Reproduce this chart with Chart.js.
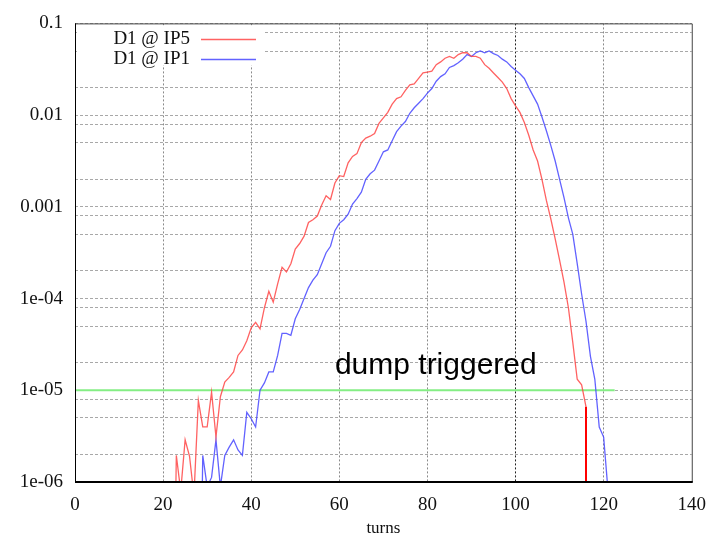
<!DOCTYPE html>
<html>
<head>
<meta charset="utf-8">
<script src="https://cdn.jsdelivr.net/npm/chart.js@4.4.1/dist/chart.umd.min.js"></script>
<style>
  html, body { margin: 0; padding: 0; background: #fff; }
  #wrap { width: 718px; height: 539px; }
</style>
</head>
<body>
<div id="wrap"><canvas id="lossChart"></canvas></div>
<script>
// turns axis
const xTicks = [0, 20, 40, 60, 80, 100, 120, 140];

// log axis decades and their labels
const yDecades = [1e-6, 1e-5, 1e-4, 1e-3, 1e-2, 1e-1];
const yDecadeLabels = ['1e-06', '1e-05', '1e-04', '0.001', '0.01', '0.1'];
const yGridFactors = [1, 2, 5, 8];

// D1 @ IP5 : log10 of the signal, one value per turn starting at turn 22
const ip5Start = 22;
const ip5Log = [
  -9.00, -5.71, -6.10, -5.54, -5.72, -6.15, -5.11, -5.40, -5.40, -5.02,
  -5.51, -5.07, -4.91, -4.86, -4.80, -4.62, -4.56, -4.46, -4.32, -4.26,
  -4.33, -4.10, -3.92, -4.04, -3.84, -3.66, -3.71, -3.62, -3.46, -3.40,
  -3.32, -3.17, -3.14, -3.10, -2.98, -2.88, -2.92, -2.74, -2.66, -2.67,
  -2.52, -2.45, -2.42, -2.30, -2.25, -2.23, -2.20, -2.09, -2.03, -1.97,
  -1.88, -1.82, -1.80, -1.73, -1.67, -1.66, -1.60, -1.54, -1.53, -1.52,
  -1.45, -1.42, -1.38, -1.36, -1.38, -1.34, -1.32, -1.32, -1.36, -1.36,
  -1.38, -1.45, -1.49, -1.54, -1.59, -1.64, -1.71, -1.82, -1.90, -1.97,
  -2.08, -2.22, -2.38, -2.50, -2.70, -2.93, -3.13, -3.35, -3.58, -3.82,
  -4.10, -4.48, -4.88, -4.94, -5.18
];

// D1 @ IP1 : log10 of the signal, one value per turn starting at turn 28
const ip1Start = 28;
const ip1Log = [
  -9.00, -5.71, -6.05, -5.95, -5.54, -6.05, -5.71, -5.62, -5.54, -5.65,
  -5.71, -5.24, -5.31, -5.40, -5.00, -4.92, -4.80, -4.80, -4.62, -4.38,
  -4.38, -4.40, -4.22, -4.12, -4.00, -3.88, -3.80, -3.74, -3.62, -3.50,
  -3.43, -3.26, -3.18, -3.14, -3.08, -2.97, -2.91, -2.84, -2.70, -2.64,
  -2.60, -2.50, -2.40, -2.38, -2.28, -2.18, -2.12, -2.07, -1.98, -1.92,
  -1.87, -1.82, -1.76, -1.71, -1.63, -1.58, -1.55, -1.48, -1.46, -1.43,
  -1.39, -1.34, -1.36, -1.32, -1.30, -1.32, -1.30, -1.33, -1.35, -1.39,
  -1.42, -1.47, -1.51, -1.55, -1.60, -1.70, -1.79, -1.88, -2.02, -2.17,
  -2.33, -2.50, -2.70, -2.90, -3.12, -3.30, -3.62, -3.95, -4.25, -4.63,
  -4.88, -5.40, -5.51, -6.10, -9.00
];

// dump threshold and dump marker
const thresholdLevel = 1e-5;
const thresholdTurns = [0, 122.5];
const dumpTurn = 116;
const dumpLevels = [6.6e-6, 1e-7];
const noteText = 'dump triggered';
const noteTurn = 59;
const noteLevel = 1.5e-5;

const toPoints = (start, logs) => logs.map((v, i) => ({ x: start + i, y: Math.pow(10, v) }));

const yGridValues = [];
yDecades.slice(0, -1).forEach(d => yGridFactors.forEach(f => yGridValues.push(d * f)));
yGridValues.push(yDecades[yDecades.length - 1]);

const serif = "'Liberation Serif', 'DejaVu Serif', serif";

// frame, legend and note drawn on top of the plot
const decorPlugin = {
  id: 'decor',
  afterDatasetsDraw(chart) {
    const { ctx, chartArea: a, scales } = chart;
    ctx.save();

    // legend box (white background over grid)
    ctx.fillStyle = '#fff';
    ctx.fillRect(a.left + 2, a.top + 2, 186, 40);
    ctx.font = '19px ' + serif;
    ctx.textAlign = 'right';
    ctx.textBaseline = 'middle';
    [0, 1].forEach(i => {
      const ds = chart.data.datasets[i];
      const y = a.top + 16 + i * 20;
      ctx.fillStyle = '#111';
      ctx.fillText(ds.label, a.left + 115, y);
      ctx.strokeStyle = ds.borderColor;
      ctx.lineWidth = 1.5;
      ctx.beginPath();
      ctx.moveTo(a.left + 126, y);
      ctx.lineTo(a.left + 181, y);
      ctx.stroke();
    });

    // annotation
    ctx.font = "30px 'Liberation Sans', Arial, sans-serif";
    ctx.textAlign = 'left';
    ctx.textBaseline = 'alphabetic';
    ctx.fillStyle = '#000';
    ctx.fillText(noteText, scales.x.getPixelForValue(noteTurn), scales.y.getPixelForValue(noteLevel));

    // frame
    ctx.strokeStyle = '#444';
    ctx.lineWidth = 1;
    ctx.beginPath();
    ctx.moveTo(a.left, a.top + 0.5);
    ctx.lineTo(a.right + 0.5, a.top + 0.5);
    ctx.lineTo(a.right + 0.5, a.bottom);
    ctx.stroke();
    ctx.strokeStyle = '#000';
    ctx.beginPath();
    ctx.moveTo(a.left + 0.5, a.top);
    ctx.lineTo(a.left + 0.5, a.bottom);
    ctx.stroke();
    ctx.lineWidth = 2;
    ctx.beginPath();
    ctx.moveTo(a.left, a.bottom);
    ctx.lineTo(a.right + 1, a.bottom);
    ctx.stroke();
    ctx.restore();
  }
};

new Chart(document.getElementById('lossChart'), {
  type: 'line',
  data: {
    datasets: [
      {
        label: 'D1 @ IP5',
        data: toPoints(ip5Start, ip5Log),
        borderColor: 'rgba(255, 70, 70, 0.85)',
        borderWidth: 1.3,
        pointRadius: 0,
        tension: 0
      },
      {
        label: 'D1 @ IP1',
        data: toPoints(ip1Start, ip1Log),
        borderColor: 'rgba(70, 70, 255, 0.85)',
        borderWidth: 1.3,
        pointRadius: 0,
        tension: 0
      },
      {
        label: 'dump',
        data: dumpLevels.map(v => ({ x: dumpTurn, y: v })),
        borderColor: '#ff0000',
        borderWidth: 2,
        pointRadius: 0
      },
      {
        label: 'threshold',
        data: thresholdTurns.map(t => ({ x: t, y: thresholdLevel })),
        borderColor: '#84ee84',
        borderWidth: 2,
        pointRadius: 0
      }
    ]
  },
  options: {
    responsive: true,
    maintainAspectRatio: false,
    animation: false,
    layout: { padding: { top: 22, right: 26, left: 0, bottom: 0 } },
    plugins: {
      legend: { display: false },
      tooltip: { enabled: false }
    },
    scales: {
      x: {
        type: 'linear',
        min: 0,
        max: 140,
        afterFit: s => { s.height = 57; },
        afterBuildTicks: s => { s.ticks = xTicks.map(v => ({ value: v })); },
        ticks: { padding: 12, color: '#111', font: { family: serif, size: 19 }, autoSkip: false, maxRotation: 0 },
        grid: {
          drawTicks: false,
          lineWidth: 1,
          color: c => (c.tick && c.tick.value === 100) ? '#222' : (c.tick && (c.tick.value === 0 || c.tick.value === 140) ? 'rgba(0,0,0,0)' : '#8a8a8a')
        },
        border: { display: false, dash: [2, 2] },
        title: { display: true, text: 'turns', color: '#111', font: { family: serif, size: 17 }, padding: { top: 0, bottom: 0 } }
      },
      y: {
        type: 'logarithmic',
        min: 1e-6,
        max: 0.1,
        afterFit: s => { s.width = 75; },
        afterBuildTicks: s => { s.ticks = yGridValues.map(v => ({ value: v })); },
        ticks: {
          padding: 12,
          color: '#111',
          font: { family: serif, size: 19 },
          autoSkip: false,
          callback: v => {
            const i = yDecades.findIndex(d => Math.abs(v / d - 1) < 1e-6);
            return i >= 0 ? yDecadeLabels[i] : '';
          }
        },
        grid: { drawTicks: false, lineWidth: 1, color: '#a8a8a8' },
        border: { display: false, dash: [3, 2] }
      }
    }
  },
  plugins: [decorPlugin]
});
</script>
</body>
</html>
